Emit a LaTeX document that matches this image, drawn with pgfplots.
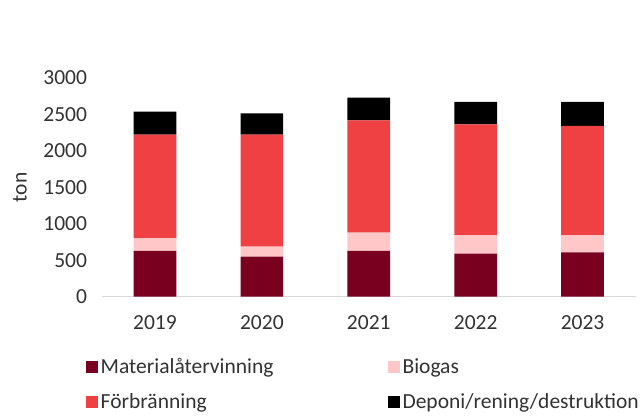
\documentclass[border=0pt]{standalone}
\usepackage{fontspec}
\setmainfont{Carlito}
\usepackage{pgfplots}
\pgfplotsset{compat=1.18}
\definecolor{cMat}{RGB}{122,0,32}
\definecolor{cBio}{RGB}{255,199,199}
\definecolor{cFor}{RGB}{239,64,68}
\definecolor{cDep}{RGB}{0,0,0}
\definecolor{cAxis}{RGB}{217,217,217}
\definecolor{cText}{RGB}{50,50,50}
\begin{document}
\begin{tikzpicture}
\useasboundingbox (0pt,0pt) rectangle (642pt,416pt);
\begin{axis}[
  at={(101.5pt,119.3pt)}, anchor=south west,
  scale only axis,
  width=534.5pt, height=218.7pt,
  ybar stacked,
  bar width=42.7pt,
  xmin=-0.5, xmax=4.5,
  ymin=0, ymax=3000,
  xtick={0,1,2,3,4},
  xticklabels={2019,2020,2021,2022,2023},
  ytick={0,500,1000,1500,2000,2500,3000},
  major tick length=0pt,
  axis x line*=bottom,
  axis y line*=left,
  x axis line style={draw=cAxis, line width=1pt},
  y axis line style={draw=none},
  /pgf/number format/assume math mode=true,
  /pgf/number format/1000 sep={},
  tick label style={font=\fontsize{21.5}{25}\selectfont, text=cText},
  xticklabel style={yshift=-15pt},
  yticklabel style={xshift=-11pt},
  ylabel={ton},
  ylabel style={at={(axis description cs:-0.1525,0.5)}, anchor=center, font=\fontsize{21.5}{25}\selectfont, text=cText},
  legend columns=2,
  legend cell align=left,
  legend image code/.code={\fill[#1] (0pt,-6pt) rectangle (12pt,6pt);},
  legend style={
    at={(axis description cs:-0.029,-0.28)}, anchor=north west,
    draw=none, inner sep=0pt, fill=none,
    font=\fontsize{21.5}{25}\selectfont, text=cText,
    row sep=19pt,
    /tikz/every even column/.append style={column sep=112pt},
    nodes={inner xsep=2.5pt, inner ysep=0pt}
  },
]
\addplot+[fill=cMat, draw=none] coordinates {(0,627) (1,549) (2,627) (3,590) (4,609)};
\addplot+[fill=cBio, draw=none] coordinates {(0,174) (1,137) (2,251) (3,252) (4,233)};
\addplot+[fill=cFor, draw=none] coordinates {(0,1422) (1,1537) (2,1542) (3,1523) (4,1500)};
\addplot+[fill=cDep, draw=none] coordinates {(0,315) (1,293) (2,310) (3,306) (4,329)};
\legend{Materialåtervinning,Biogas,Förbränning,Deponi/rening/destruktion}
\end{axis}
\end{tikzpicture}
\end{document}
